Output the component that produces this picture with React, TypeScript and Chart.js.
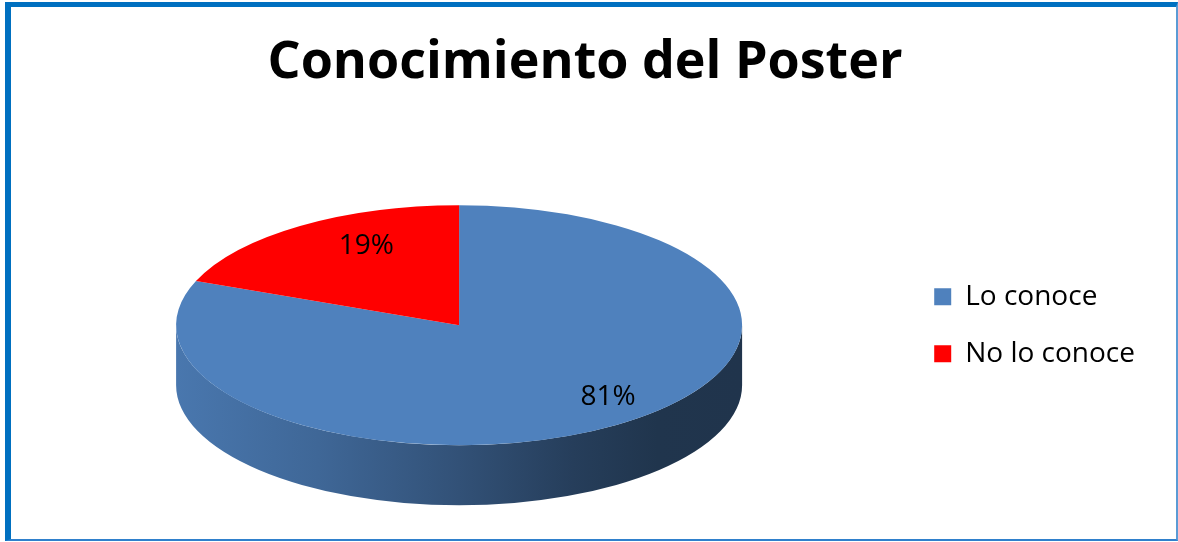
import React, { useEffect, useRef } from 'react';
import { Chart, registerables } from 'chart.js';

Chart.register(...registerables);

const TITLE = 'Conocimiento del Poster';
const CATEGORIES = ['Lo conoce', 'No lo conoce'];
const VALUES = [81, 19];
const COLORS = ['#4F81BD', '#FF0000'];

// 3D look (styling only)
const RX = 283;
const RY = 120;
const DEPTH = 60;
const PIE_DX = -6;
const LABEL_FRACTION = 0.76;
const LABEL_DX = 28;
const LABEL_DY = -4;
const SIDE_SHADE: [number, number][] = [
  [0, 0.92],
  [0.25, 0.8],
  [0.5, 0.63],
  [0.7, 0.48],
  [0.85, 0.41],
  [1, 0.4],
];

function shade(hex: string, f: number): string {
  const n = parseInt(hex.slice(1), 16);
  const r = Math.round(((n >> 16) & 255) * f);
  const g = Math.round(((n >> 8) & 255) * f);
  const b = Math.round((n & 255) * f);
  return `rgb(${r},${g},${b})`;
}

const pie3d = {
  id: 'pie3d',
  beforeDatasetsDraw(chart: any) {
    const meta = chart.getDatasetMeta(0);
    const ctx: CanvasRenderingContext2D = chart.ctx;
    const first = meta.data[0];
    if (!first) return;
    const { x, y: cy, outerRadius: r } = first.getProps(['x', 'y', 'outerRadius'], true);
    const cx = x + PIE_DX;
    const sx = RX / r;
    const sy = RY / r;
    const bg = chart.data.datasets[0].backgroundColor as string[];
    meta.data.forEach((arc: any, i: number) => {
      const { startAngle, endAngle } = arc.getProps(['startAngle', 'endAngle'], true);
      const grad = ctx.createLinearGradient(cx - RX, 0, cx + RX, 0);
      SIDE_SHADE.forEach(([p, f]) => grad.addColorStop(p, shade(bg[i], f)));
      for (const k of [-2, -1, 0, 1]) {
        const lo = Math.max(startAngle, k * 2 * Math.PI);
        const hi = Math.min(endAngle, k * 2 * Math.PI + Math.PI);
        if (hi > lo) {
          ctx.beginPath();
          ctx.ellipse(cx, cy, RX, RY, 0, lo, hi, false);
          ctx.ellipse(cx, cy + DEPTH, RX, RY, 0, hi, lo, true);
          ctx.closePath();
          ctx.fillStyle = grad;
          ctx.fill();
        }
      }
    });
    ctx.save();
    ctx.translate(cx, cy);
    ctx.scale(sx, sy);
    ctx.translate(-x, -cy);
  },
  afterDatasetsDraw(chart: any) {
    const ctx: CanvasRenderingContext2D = chart.ctx;
    ctx.restore();
    const meta = chart.getDatasetMeta(0);
    const data = chart.data.datasets[0].data as number[];
    const total = data.reduce((a, b) => a + b, 0);
    ctx.save();
    ctx.font = '28px "Open Sans"';
    ctx.fillStyle = '#000000';
    ctx.textAlign = 'center';
    ctx.textBaseline = 'middle';
    meta.data.forEach((arc: any, i: number) => {
      const { x, y, startAngle, endAngle } = arc.getProps(['x', 'y', 'startAngle', 'endAngle'], true);
      const mid = (startAngle + endAngle) / 2;
      const px = x + PIE_DX + LABEL_DX + Math.cos(mid) * RX * LABEL_FRACTION;
      const py = y + LABEL_DY + Math.sin(mid) * RY * LABEL_FRACTION;
      ctx.fillText(Math.round((data[i] / total) * 100) + '%', px, py);
    });
    ctx.restore();
  },
};

export default function App() {
  const ref = useRef<HTMLCanvasElement | null>(null);

  useEffect(() => {
    if (!ref.current) return;
    Chart.defaults.font.family = '"Open Sans"';
    const chart = new Chart(ref.current, {
      type: 'pie',
      data: {
        labels: CATEGORIES,
        datasets: [
          {
            data: VALUES,
            backgroundColor: COLORS,
            borderWidth: 0,
            clip: false as any,
          },
        ],
      },
      options: {
        responsive: false,
        animation: false,
        events: [],
        layout: { padding: { left: 25, right: 33, top: 0, bottom: 0 } },
        plugins: {
          title: {
            display: true,
            text: TITLE,
            color: '#000000',
            font: { family: '"Open Sans"', size: 52, weight: 'bold' },
            padding: { top: 32, bottom: 14 },
          },
          legend: {
            position: 'right',
            fullSize: false,
            labels: {
              color: '#000000',
              font: { family: '"Open Sans"', size: 28 },
              boxWidth: 17,
              boxHeight: 17,
              padding: 29,
            },
          },
          tooltip: { enabled: false },
        },
      },
      plugins: [pie3d],
    });
    return () => chart.destroy();
  }, []);

  return (
    <div style={{ position: 'absolute', left: 0, top: 0, width: 1178, height: 542, background: '#ffffff' }}>
      <canvas ref={ref} width={1178} height={542} style={{ position: 'absolute', left: 0, top: 0, display: 'block' }} />
      <div
        style={{
          position: 'absolute',
          left: 5,
          top: 2,
          width: 1173,
          height: 539,
          boxSizing: 'border-box',
          borderTop: '5px solid #0070C0',
          borderLeft: '6px solid #0070C0',
          borderRight: '2px solid #5B9BD5',
          borderBottom: '2px solid #2F80CC',
          pointerEvents: 'none',
        }}
      />
    </div>
  );
}
